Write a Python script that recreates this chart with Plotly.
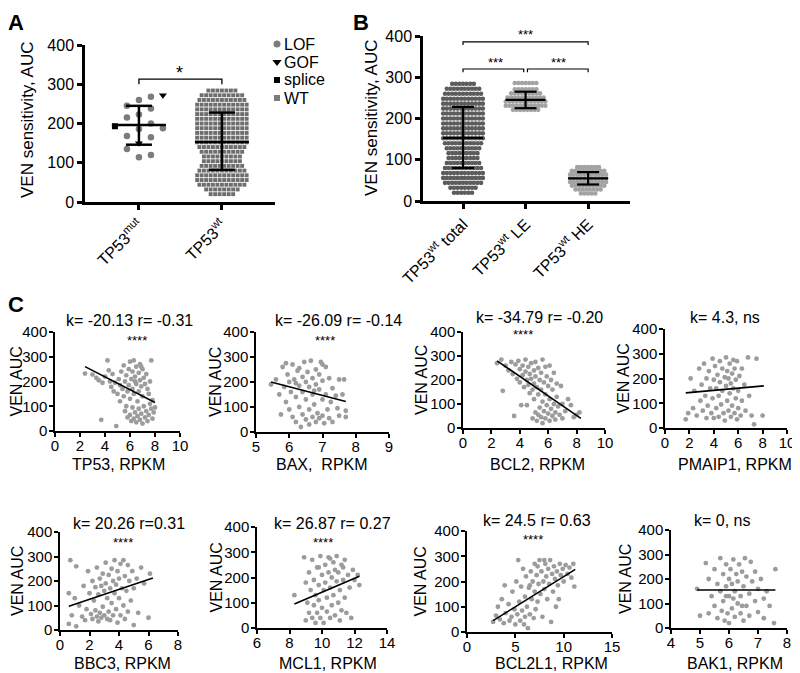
import numpy as np
import plotly.graph_objects as go

# The page body has an 8px default margin, so the figure is drawn 8px in from the page corner.
PAGE_W, PAGE_H = 800, 673
OFF = 8
W, H = PAGE_W - OFF, PAGE_H - OFF
FONT = "Liberation Sans, Arial, Helvetica, sans-serif"

# ---------------- Panel A data ----------------
a_categories = ["TP53<sup>mut</sup>", "TP53<sup>wt</sup>"]
mut_lof = [268, 260, 245, 238, 223, 215, 200, 188, 186, 168, 165, 135, 120, 114]
mut_gof = [272, 150]
mut_splice = [193]
wt_levels = [20, 32, 44, 56, 68, 80, 92, 104, 116, 128, 140, 152, 164, 176, 188, 200, 212, 224, 236, 248, 260, 272, 284]
wt_counts = [6, 8, 11, 12, 12, 11, 10, 9, 9, 10, 11, 12, 12, 12, 12, 12, 12, 12, 12, 12, 11, 10, 7]
a_mean = [196, 153]
a_sd_low = [146, 82]
a_sd_high = [245, 228]

# ---------------- Panel B data ----------------
b_categories = ["TP53<sup>wt</sup> total", "TP53<sup>wt</sup> LE", "TP53<sup>wt</sup> HE"]
le_levels = [221, 231, 241, 251, 261, 271, 286]
le_counts = [8, 12, 12, 11, 9, 7, 7]
he_levels = [18, 28, 37, 46, 55, 64, 73, 82]
he_counts = [5, 8, 10, 11, 11, 11, 10, 7]
b_mean = [153, 245, 55]
b_sd_low = [80, 225, 40]
b_sd_high = [228, 265, 70]

# ---------------- Panel C data (expression, AUC) ----------------
tp53_pts = [(2.4,232),(3.0,228),(3.3,215),(3.5,205),(3.7,45),(3.8,195),(4.0,220),(4.2,285),(4.3,245),(4.4,200),(4.5,178),(4.6,230),(4.7,160),(4.8,195),(4.9,20),(5.0,150),(5.1,210),(5.2,185),(5.2,120),(5.3,240),(5.4,170),(5.5,265),(5.5,140),(5.6,200),(5.6,80),(5.7,225),(5.8,160),(5.8,55),(5.9,250),(5.9,185),(6.0,280),(6.0,130),(6.0,65),(6.1,210),(6.1,40),(6.2,240),(6.2,170),(6.2,95),(6.3,285),(6.3,150),(6.3,50),(6.4,220),(6.4,75),(6.5,260),(6.5,190),(6.5,35),(6.6,120),(6.6,60),(6.7,235),(6.7,160),(6.7,90),(6.8,270),(6.8,205),(6.8,45),(6.9,180),(6.9,70),(7.0,250),(7.0,140),(7.0,30),(7.1,215),(7.1,100),(7.2,190),(7.2,55),(7.3,230),(7.3,80),(7.4,170),(7.4,40),(7.5,150),(7.5,65),(7.6,200),(7.7,285),(7.7,90),(7.8,125),(7.8,50),(7.9,75),(8.0,95),(7.6,110),(6.9,260),(6.4,200),(5.7,100)]
bax_pts = [(5.45,190),(5.6,210),(5.7,150),(5.75,70),(5.8,260),(5.85,180),(5.9,120),(5.95,230),(6.0,200),(6.0,90),(6.05,160),(6.1,270),(6.1,60),(6.15,210),(6.2,140),(6.2,40),(6.25,245),(6.3,185),(6.3,100),(6.35,20),(6.4,220),(6.4,160),(6.4,70),(6.45,280),(6.5,200),(6.5,130),(6.5,50),(6.55,240),(6.6,180),(6.6,90),(6.65,285),(6.7,215),(6.7,150),(6.7,60),(6.75,110),(6.8,250),(6.8,190),(6.8,40),(6.85,75),(6.9,230),(6.9,170),(6.9,55),(6.95,280),(7.0,205),(7.0,130),(7.0,65),(7.05,35),(7.1,260),(7.1,150),(7.15,90),(7.2,215),(7.2,55),(7.25,120),(7.3,175),(7.3,40),(7.4,145),(7.45,95),(7.5,210),(7.5,65),(7.6,150),(7.65,210),(7.7,85),(7.7,60),(5.9,275),(6.3,255),(6.6,30),(7.0,270),(6.2,195),(6.75,165)]
bcl2_pts = [(2.4,270),(2.7,285),(2.8,155),(3.0,260),(3.2,240),(3.4,275),(3.5,225),(3.6,50),(3.7,265),(3.8,205),(3.9,280),(4.0,245),(4.0,190),(4.1,95),(4.2,260),(4.2,220),(4.3,170),(4.4,285),(4.4,235),(4.5,200),(4.5,95),(4.6,255),(4.6,180),(4.7,225),(4.7,145),(4.8,270),(4.8,205),(4.9,160),(4.9,40),(5.0,240),(5.0,185),(5.0,120),(5.1,275),(5.1,215),(5.1,65),(5.2,170),(5.2,30),(5.3,250),(5.3,140),(5.3,55),(5.4,200),(5.4,85),(5.5,230),(5.5,160),(5.5,45),(5.6,285),(5.6,110),(5.6,20),(5.7,190),(5.7,70),(5.8,255),(5.8,140),(5.8,40),(5.9,215),(5.9,95),(6.0,175),(6.0,60),(6.1,260),(6.1,120),(6.1,30),(6.2,200),(6.2,80),(6.3,160),(6.3,50),(6.4,230),(6.4,100),(6.5,65),(6.5,35),(6.6,185),(6.6,130),(6.7,90),(6.8,55),(6.9,175),(7.0,100),(7.0,40),(7.2,70),(7.4,120),(7.6,95),(7.8,45),(8.0,55),(8.2,65)]
pmaip1_pts = [(1.7,35),(1.9,60),(2.1,200),(2.3,80),(2.4,150),(2.6,50),(2.8,240),(2.9,110),(3.0,175),(3.1,70),(3.2,260),(3.3,130),(3.4,200),(3.4,40),(3.5,90),(3.6,230),(3.7,160),(3.8,60),(3.9,280),(3.9,120),(4.0,195),(4.0,40),(4.1,250),(4.2,80),(4.2,160),(4.3,215),(4.4,45),(4.4,130),(4.5,270),(4.5,185),(4.6,95),(4.7,240),(4.7,150),(4.8,60),(4.9,205),(4.9,30),(5.0,285),(5.0,170),(5.1,110),(5.1,230),(5.2,70),(5.2,200),(5.3,260),(5.3,140),(5.4,45),(5.4,180),(5.5,220),(5.5,90),(5.6,275),(5.6,160),(5.7,60),(5.7,240),(5.8,120),(5.8,195),(5.9,35),(5.9,270),(6.0,150),(6.0,80),(6.1,210),(6.2,50),(6.3,240),(6.3,110),(6.5,175),(6.6,70),(6.8,285),(6.9,130),(7.1,50),(7.3,15),(7.5,280),(8.0,50)]
bbc3_pts = [(0.6,25),(0.6,150),(0.7,285),(0.8,60),(1.0,130),(1.1,15),(1.1,260),(1.3,100),(1.5,55),(1.6,180),(1.7,40),(1.8,85),(1.9,240),(2.0,150),(2.1,65),(2.2,200),(2.2,45),(2.3,120),(2.4,175),(2.4,80),(2.5,255),(2.5,55),(2.6,145),(2.6,35),(2.7,210),(2.7,70),(2.8,180),(2.8,50),(2.9,230),(2.9,95),(3.0,160),(3.0,60),(3.1,275),(3.1,190),(3.2,45),(3.2,130),(3.3,225),(3.3,75),(3.4,170),(3.4,40),(3.5,250),(3.5,110),(3.6,200),(3.6,60),(3.7,285),(3.7,150),(3.8,185),(3.8,85),(3.9,240),(3.9,30),(4.0,210),(4.0,130),(4.1,270),(4.1,60),(4.2,170),(4.3,285),(4.3,100),(4.4,220),(4.4,45),(4.5,160),(4.6,265),(4.6,75),(4.7,200),(4.8,120),(4.9,240),(5.0,20),(5.0,170),(5.2,210),(5.3,70),(5.5,255),(5.7,190),(6.0,50),(6.1,230)]
mcl1_pts = [(8.3,130),(8.9,280),(9.0,180),(9.1,100),(9.2,60),(9.2,220),(9.3,150),(9.4,40),(9.4,270),(9.5,190),(9.5,90),(9.6,130),(9.6,20),(9.7,240),(9.7,60),(9.8,170),(9.8,110),(9.9,285),(9.9,40),(10.0,210),(10.0,80),(10.1,150),(10.1,20),(10.2,250),(10.2,180),(10.3,65),(10.3,120),(10.4,280),(10.4,220),(10.5,40),(10.5,160),(10.6,200),(10.6,90),(10.7,260),(10.7,130),(10.8,230),(10.8,50),(10.9,185),(10.9,285),(11.0,100),(11.0,220),(11.1,150),(11.1,30),(11.2,250),(11.2,70),(11.3,190),(11.4,120),(11.4,270),(11.5,60),(11.6,210),(11.7,160),(11.8,40),(11.9,230),(12.0,190),(12.2,210),(12.3,170),(9.0,30),(10.5,275),(11.3,240),(9.8,240)]
bcl2l1_pts = [(2.7,40),(3.0,65),(3.2,100),(3.4,50),(3.6,130),(3.8,35),(3.9,185),(4.0,75),(4.3,110),(4.4,45),(4.6,60),(4.7,160),(4.9,90),(5.0,30),(5.1,200),(5.2,70),(5.3,285),(5.4,120),(5.5,45),(5.6,180),(5.7,85),(5.8,250),(5.9,30),(6.0,140),(6.0,60),(6.1,220),(6.2,100),(6.3,15),(6.4,175),(6.5,70),(6.6,240),(6.7,130),(6.8,200),(6.9,55),(7.0,270),(7.0,160),(7.1,90),(7.2,225),(7.3,120),(7.4,190),(7.5,285),(7.6,150),(7.7,240),(7.8,60),(7.9,200),(8.0,170),(8.1,270),(8.2,220),(8.3,130),(8.4,250),(8.5,190),(8.6,285),(8.7,40),(8.8,230),(8.9,160),(9.0,260),(9.1,210),(9.2,100),(9.3,240),(9.4,185),(9.6,270),(9.7,225),(9.9,250),(10.0,200),(10.2,265),(10.4,230),(10.6,255),(10.8,215),(11.0,270),(11.1,180),(8.0,285),(6.5,185),(7.3,260),(9.5,130)]
bak1_pts = [(4.9,160),(5.0,50),(5.2,265),(5.3,200),(5.3,60),(5.4,130),(5.5,240),(5.5,90),(5.6,180),(5.6,40),(5.7,285),(5.7,150),(5.75,70),(5.8,220),(5.8,110),(5.85,30),(5.9,260),(5.9,170),(5.95,60),(6.0,200),(6.0,130),(6.0,20),(6.05,240),(6.1,80),(6.1,180),(6.15,280),(6.2,150),(6.2,45),(6.25,220),(6.3,100),(6.3,190),(6.35,260),(6.4,60),(6.4,130),(6.45,230),(6.5,30),(6.5,170),(6.55,285),(6.6,90),(6.6,210),(6.7,140),(6.7,50),(6.75,270),(6.8,190),(6.9,110),(6.9,230),(7.0,65),(7.0,160),(7.1,200),(7.2,40),(7.2,120),(7.3,150),(7.4,90),(7.6,240),(7.55,20),(6.15,120),(5.9,130),(6.45,90)]

c_genes = ["TP53", "BAX", "BCL2", "PMAIP1", "BBC3", "MCL1", "BCL2L1", "BAK1"]
c_xlabels = ["TP53, RPKM", "BAX,  RPKM", "BCL2, RPKM", "PMAIP1, RPKM", "BBC3, RPKM", "MCL1, RPKM", "BCL2L1, RPKM", "BAK1, RPKM"]
c_stats = ["k= -20.13 r= -0.31", "k= -26.09 r= -0.14", "k= -34.79 r= -0.20", "k= 4.3, ns",
           "k= 20.26 r=0.31", "k= 26.87 r= 0.27", "k= 24.5 r= 0.63", "k= 0, ns"]
c_signif = ["****", "****", "****", "", "****", "****", "****", ""]
c_fit_x = [[2.4, 8.0], [5.45, 7.7], [2.4, 8.3], [1.7, 8.1], [0.6, 6.3], [8.3, 12.3], [2.7, 11.2], [4.9, 7.6]]
c_fit_y = [[260, 115], [200, 122], [280, 40], [142, 170], [97, 212], [95, 205], [45, 248], [155, 155]]
c_points = [tp53_pts, bax_pts, bcl2_pts, pmaip1_pts, bbc3_pts, mcl1_pts, bcl2l1_pts, bak1_pts]

# ---------------- layout helpers (page pixels -> paper) ----------------
def fx(p):
    return (p - OFF) / W

def fy(p):
    return 1 - (p - OFF) / H

def swarm_offsets(values, px_per_unit, spacing):
    vals = np.asarray(values, float)
    order = np.argsort(vals, kind="stable")
    px_, py_ = [], []
    offs = np.zeros(len(vals))
    for i in order:
        y = vals[i] * px_per_unit
        k = 0
        chosen = None
        while chosen is None:
            cands = [0.0] if k == 0 else [k * spacing, -k * spacing]
            for c in cands:
                if all((c - a) ** 2 + (y - b) ** 2 >= (spacing * 0.98) ** 2 for a, b in zip(px_, py_)):
                    chosen = c
                    break
            k += 1
        offs[i] = chosen
        px_.append(chosen)
        py_.append(y)
    return offs

fig = go.Figure()
layout = {}
annotations = []
shapes = []

def ax_name(i, kind):
    return f"{kind}axis" if i == 1 else f"{kind}axis{i}"

def ref(i, kind):
    return kind if i == 1 else f"{kind}{i}"

def add_axes(i, xpx, ypx, xrange, yrange, lw, tickfont, xtick=None, ytick=100, tickvals=None,
             ticktext=None, tickangle=None, ticklen=5, xstandoff=0, ystandoff=0):
    common = dict(showline=True, linecolor="black", linewidth=lw, ticks="outside", ticklen=ticklen,
                  tickwidth=lw, tickcolor="black", showgrid=False, zeroline=False, automargin=False,
                  tickfont=dict(size=tickfont, color="black", family=FONT), fixedrange=True)
    xa = dict(domain=[fx(xpx[0]), fx(xpx[1])], range=xrange, anchor=ref(i, "y"),
              ticklabelstandoff=xstandoff, **common)
    if tickvals is not None:
        xa.update(tickmode="array", tickvals=tickvals, ticktext=ticktext)
    else:
        xa.update(dtick=xtick, tick0=0)
    if tickangle is not None:
        xa["tickangle"] = tickangle
    ya = dict(domain=[fy(ypx[1]), fy(ypx[0])], range=yrange, anchor=ref(i, "x"), dtick=ytick,
              ticklabelstandoff=ystandoff, **common)
    layout[ax_name(i, "x")] = xa
    layout[ax_name(i, "y")] = ya

def text(x, y, s, size, angle=0, xanchor="center", yanchor="middle"):
    annotations.append(dict(x=fx(x), y=fy(y), xref="paper", yref="paper", text=s, showarrow=False,
                            textangle=angle, xanchor=xanchor, yanchor=yanchor, borderpad=0,
                            font=dict(size=size, color="black", family=FONT)))

# ---------------- Panel A ----------------
A_X = (85, 275); A_Y = (45, 202); A_XR = [0.35, 2.64]
add_axes(1, A_X, A_Y, A_XR, [0, 400], 2.5, 16, tickvals=[1, 2], ticktext=a_categories, tickangle=-45)
a_ppx = (A_X[1] - A_X[0]) / (A_XR[1] - A_XR[0])
a_ppy = (A_Y[1] - A_Y[0]) / 400.0

wt_vals = np.repeat(wt_levels, wt_counts)
wt_off = swarm_offsets(wt_vals, a_ppy, 4.5) / a_ppx
wt_off = wt_off - 0.5 * 4.5 / a_ppx * (np.repeat(wt_counts, wt_counts) % 2 == 0)
fig.add_trace(go.Scatter(x=2 + wt_off, y=wt_vals, mode="markers", xaxis="x", yaxis="y",
                         marker=dict(symbol="square", size=3.9, color="#6e6e6e"), showlegend=False, hoverinfo="skip"))

mut_all = mut_lof + mut_gof + mut_splice
mut_off = swarm_offsets(mut_all, a_ppy, 12) / a_ppx
n1, n2 = len(mut_lof), len(mut_gof)
fig.add_trace(go.Scatter(x=1 + mut_off[:n1], y=mut_lof, mode="markers", marker=dict(symbol="circle", size=6.5, color="#7c7c7c"),
                         showlegend=False, hoverinfo="skip"))
fig.add_trace(go.Scatter(x=1 + mut_off[n1:n1 + n2], y=mut_gof, mode="markers", marker=dict(symbol="triangle-down", size=7, color="black"),
                         showlegend=False, hoverinfo="skip"))
fig.add_trace(go.Scatter(x=1 + mut_off[n1 + n2:], y=mut_splice, mode="markers", marker=dict(symbol="square", size=6, color="black"),
                         showlegend=False, hoverinfo="skip"))

def mean_sd(xc, mean, lo, hi, half_mean, half_cap, xa, ya, lw):
    xs = [xc - half_mean, xc + half_mean, None, xc - half_cap, xc + half_cap, None,
          xc - half_cap, xc + half_cap, None, xc, xc]
    ys = [mean, mean, None, hi, hi, None, lo, lo, None, lo, hi]
    fig.add_trace(go.Scatter(x=xs, y=ys, mode="lines", line=dict(color="black", width=lw),
                             xaxis=xa, yaxis=ya, showlegend=False, hoverinfo="skip"))

for k in range(2):
    mean_sd(k + 1, a_mean[k], a_sd_low[k], a_sd_high[k], 27 / a_ppx, 13 / a_ppx, "x", "y", 2.5)

# bracket A
shapes.append(dict(type="path", xref="x", yref="y", path="M 1,300 L 1,313 L 2,313 L 2,300",
                   line=dict(color="black", width=1.3)))
text(179, 73, "*", 18)

# legend A (overlay axis in page-pixel space)
layout["xaxis11"] = dict(domain=[0, 1], range=[OFF, PAGE_W], visible=False, fixedrange=True, anchor="y11")
layout["yaxis11"] = dict(domain=[0, 1], range=[PAGE_H, OFF], visible=False, fixedrange=True, anchor="x11")
leg_labels = ["LOF", "GOF", "splice", "WT"]
leg_symbols = ["circle", "triangle-down", "square", "square"]
leg_colors = ["#7c7c7c", "black", "black", "#7c7c7c"]
leg_sizes = [7, 8, 6, 6]
leg_y = [44, 62, 80, 98]
for lab, sym, col, sz, yy in zip(leg_labels, leg_symbols, leg_colors, leg_sizes, leg_y):
    fig.add_trace(go.Scatter(x=[277], y=[yy], mode="markers", xaxis="x11", yaxis="y11",
                             marker=dict(symbol=sym, size=sz, color=col), showlegend=False, hoverinfo="skip"))
    text(283, yy, lab, 16, xanchor="left")

text(28, 120, "VEN sensitivity, AUC", 17, angle=-90)
text(16, 8.5, "<b>A</b>", 22, yanchor="top")

# ---------------- Panel B ----------------
B_X = (423, 630); B_Y = (36, 201); B_XR = [0.36, 3.67]
add_axes(2, B_X, B_Y, B_XR, [0, 400], 2.5, 16, tickvals=[1, 2, 3], ticktext=b_categories, tickangle=-45)
b_ppx = (B_X[1] - B_X[0]) / (B_XR[1] - B_XR[0])
b_ppy = (B_Y[1] - B_Y[0]) / 400.0

groups_b = [(wt_levels, wt_counts, "#5c5c5c"),
            (le_levels, le_counts, "#a3a3a3"),
            (he_levels, he_counts, "#a3a3a3")]
for k, (lev, cnt, col) in enumerate(groups_b):
    vals = np.repeat(lev, cnt)
    off = swarm_offsets(vals, b_ppy, 3.6) / b_ppx
    off = off - 0.5 * 3.6 / b_ppx * (np.repeat(cnt, cnt) % 2 == 0)
    fig.add_trace(go.Scatter(x=k + 1 + off, y=vals, mode="markers", xaxis="x2", yaxis="y2",
                             marker=dict(symbol="circle", size=4.6, color=col), showlegend=False, hoverinfo="skip"))
for k in range(3):
    mean_sd(k + 1, b_mean[k], b_sd_low[k], b_sd_high[k], 20 / b_ppx, 11 / b_ppx, "x2", "y2", 2.2)

for (x0, x1, yb, sx, sy) in [(1, 3, 386, 525, 34), (1, 1.97, 320, 495, 62), (2.03, 3, 320, 558, 62)]:
    shapes.append(dict(type="path", xref="x2", yref="y2",
                       path=f"M {x0},{yb-8} L {x0},{yb} L {x1},{yb} L {x1},{yb-8}",
                       line=dict(color="black", width=1.2)))
    text(sx, sy, "***", 13)

text(371, 118, "VEN sensitivity, AUC", 17, angle=-90)
text(361, 8.5, "<b>B</b>", 22, yanchor="top")

# ---------------- Panel C ----------------
text(16, 291, "<b>C</b>", 22, yanchor="top")
c_xpx = [(55, 180), (256, 389), (463, 605), (665, 787), (60, 178), (257, 387), (467, 612), (671, 787)]
c_ypx = [(332, 431), (332, 432), (332, 428), (329, 428), (532, 630), (527, 628), (531, 632), (530, 628)]
c_xr = [[0, 10], [5, 9], [0, 10], [0, 10], [0, 8], [6, 14], [0, 15], [4, 8]]
c_dt = [2, 1, 2, 2, 2, 2, 5, 1]
c_title_pos = [(129, 321), (338, 321), (539, 317), (725, 317), (129, 523), (332, 523), (537, 520), (722, 520)]
c_star_pos = [(137, 340), (325, 340), (523, 334), None, (123, 542), (323, 542), (533, 539), None]
c_xlab_pos = [(119, 464), (322, 464), (537, 464), (735, 464), (122, 663), (328, 663), (551, 663), (735, 663)]
c_ylab_x = [16, 215, 422, 623, 17, 216, 420, 625]

for j in range(8):
    i = j + 3
    add_axes(i, c_xpx[j], c_ypx[j], c_xr[j], [0, 400], 1.5, 15, xtick=c_dt[j], ticklen=4,
             xstandoff=-4, ystandoff=-1)
    xs = [p[0] for p in c_points[j]]
    ys = [p[1] for p in c_points[j]]
    fig.add_trace(go.Scatter(x=xs, y=ys, mode="markers", xaxis=ref(i, "x"), yaxis=ref(i, "y"),
                             marker=dict(size=4.8, color="#9c9c9c"), showlegend=False, hoverinfo="skip"))
    fig.add_trace(go.Scatter(x=c_fit_x[j], y=c_fit_y[j], mode="lines", xaxis=ref(i, "x"), yaxis=ref(i, "y"),
                             line=dict(color="black", width=1.6), showlegend=False, hoverinfo="skip"))
    text(*c_title_pos[j], c_stats[j], 16)
    if c_star_pos[j] is not None:
        text(*c_star_pos[j], c_signif[j], 13)
    text(*c_xlab_pos[j], c_xlabels[j], 16)
    yc = (c_ypx[j][0] + c_ypx[j][1]) / 2
    text(c_ylab_x[j], yc, "VEN AUC", 16, angle=-90)

layout.update(dict(template="none", width=W, height=H, margin=dict(l=0, r=0, t=0, b=0, pad=0),
                   paper_bgcolor="white", plot_bgcolor="rgba(0,0,0,0)",
                   font=dict(family=FONT, color="black"),
                   annotations=annotations, shapes=shapes, showlegend=False))
fig.update_layout(**layout)
fig.write_html("out.html", config={"displayModeBar": False})
